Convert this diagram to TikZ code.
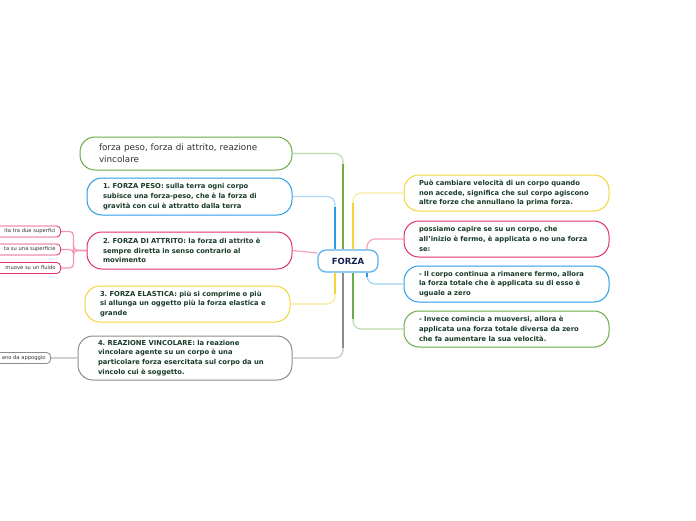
\documentclass[tikz,border=0pt]{standalone}
\usepackage{fontspec}
\setmainfont{DejaVu Sans}
\usetikzlibrary{calc}
\definecolor{cgreen}{RGB}{106,172,69}
\definecolor{cblue}{RGB}{44,155,230}
\definecolor{cpink}{RGB}{224,50,105}
\definecolor{cyellow}{RGB}{245,212,55}
\definecolor{cgray}{RGB}{140,140,140}
\definecolor{txt}{RGB}{25,60,40}
\definecolor{navy}{RGB}{20,35,80}
\frenchspacing
\begin{document}
\begin{tikzpicture}[x=1pt,y=-1pt,
  box/.style={draw, line width=1pt, fill=white, rounded corners=15pt, align=left,
    anchor=center, inner ysep=0pt, text=txt,
    font=\fontsize{6.8}{9.8}\selectfont\bfseries},
  small/.style={draw, line width=0.8pt, fill=white, rounded corners=4pt, anchor=east,
    align=right, text width=80pt, inner xsep=5pt, minimum height=11pt, inner ysep=0pt,
    text=black!80, font=\fontsize{5.2}{5.5}\selectfont},
  light/.style={line width=1.2pt, rounded corners=8pt},
  strong/.style={line width=2pt}
]
\useasboundingbox (0,0) rectangle (696,520);
\clip (0,0) rectangle (696,520);
\fill[white] (0,0) rectangle (696,520);

% central node
\node[draw=cblue!80, line width=1.2pt, fill=white, rounded corners=8pt,
  minimum width=60pt, minimum height=22pt, inner sep=0pt, text=navy,
  font=\fontsize{8.5}{10}\selectfont\bfseries] (forza) at (348,261) {FORZA};

% left nodes
\node[box, draw=cgreen, text width=174pt, inner xsep=19pt, minimum height=33pt,
  text=black!80, font=\fontsize{8.8}{12}\selectfont] (g0) at (186,153.5)
  {forza peso, forza di attrito, reazione\\vincolare};
\node[box, draw=cblue, text width=173pt, inner xsep=16pt, minimum height=37pt] (n1) at (189.5,196.5)
  {1. FORZA PESO: sulla terra ogni corpo\\subisce una forza-peso, che è la forza di\\gravità con cui è attratto dalla terra};
\node[box, draw=cpink, text width=173pt, inner xsep=16pt, minimum height=37pt] (n2) at (189.5,250.5)
  {2. FORZA DI ATTRITO: la forza di attrito è\\sempre diretta in senso contrario al\\movimento};
\node[box, draw=cyellow, text width=175pt, inner xsep=15pt, minimum height=36pt] (n3) at (187.5,304)
  {3. FORZA ELASTICA: più si comprime o più\\si allunga un oggetto più la forza elastica e\\grande};
\node[box, draw=cgray, text width=174pt, inner xsep=20pt, minimum height=44pt] (n4) at (185,358)
  {4. REAZIONE VINCOLARE: la reazione\\vincolare agente su un corpo è una\\particolare forza esercitata sul corpo da un\\vincolo cui è soggetto.};

% right nodes
\node[box, draw=cyellow, text width=175pt, inner xsep=15pt, minimum height=36pt] (ra) at (506.5,193)
  {Può cambiare velocità di un corpo quando\\non accede, significa che sul corpo agiscono\\altre forze che annullano la prima forza.};
\node[box, draw=cpink, text width=175pt, inner xsep=15pt, minimum height=36pt] (rb) at (506.5,239)
  {possiamo capire se su un corpo, che\\all'inizio è fermo, è applicata o no una forza\\se:};
\node[box, draw=cblue, text width=175pt, inner xsep=15pt, minimum height=36pt] (rc) at (506.5,284)
  {- Il corpo continua a rimanere fermo, allora\\la forza totale che è applicata su di esso è\\uguale a zero};
\node[box, draw=cgreen, text width=175pt, inner xsep=15pt, minimum height=36pt] (rd) at (506.5,329)
  {- Invece comincia a muoversi, allora è\\applicata una forza totale diversa da zero\\che fa aumentare la sua velocità.};

% small nodes on the left (cut by the frame)
\node[small, draw=cpink] (s1) at (61,231.5) {ita tra due superfici};
\node[small, draw=cpink] (s2) at (61,249.5) {ta su una superficie};
\node[small, draw=cpink] (s3) at (61,268) {muove su un fluido};
\node[small, draw=cgray] (t1) at (51,358) {ano da appoggio};

% connectors left
\draw[light, cgreen!45] (g0.east) -| ($(forza.north)+(-5,0)$);
\draw[strong, cgreen] ($(forza.north)+(-5,0)$) -- ($(forza.north |- g0.east)+(-5,10)$);
\draw[light, cblue!40] (n1.east) -| ($(forza.north)+(-13,0)$);
\draw[strong, cblue] ($(forza.north)+(-13,0)$) -- ($(forza.north |- n1.east)+(-13,10)$);
\draw[light, cpink!45] (n2.east) -- ($(forza.west)+(0,-8)$);
\draw[light, cyellow!50] (n3.east) -| ($(forza.south)+(-13,0)$);
\draw[strong, cyellow] ($(forza.south)+(-13,0)$) -- ($(forza.south |- n3.east)+(-13,-10)$);
\draw[light, cgray!50] (n4.east) -| ($(forza.south)+(-5,0)$);
\draw[strong, cgray] ($(forza.south)+(-5,0)$) -- ($(forza.south |- n4.east)+(-5,-10)$);

% connectors right
\draw[light, cyellow!45] ($(forza.north)+(5,0)$) |- (ra.west);
\draw[strong, cyellow] ($(forza.north)+(5,0)$) -- ($(forza.north |- ra.west)+(5,10)$);
\draw[light, cpink!45] ($(forza.north)+(19,0)$) |- (rb.west);
\draw[light, cblue!45] ($(forza.south)+(19,0)$) |- (rc.west);
\draw[strong, cblue] ($(forza.south)+(19,0)$) -- ($(forza.south)+(19,4)$);
\draw[light, cgreen!45] ($(forza.south)+(5,0)$) |- (rd.west);
\draw[strong, cgreen] ($(forza.south)+(5,0)$) -- ($(forza.south |- rd.west)+(5,-10)$);

% small connectors
\draw[light, cpink!50, rounded corners=4pt] (n2.west) -- ++(-13,0) |- (s1.east);
\draw[light, cpink!50, rounded corners=4pt] (n2.west) -- ++(-13,0) |- (s2.east);
\draw[light, cpink!50, rounded corners=4pt] (n2.west) -- ++(-13,0) |- (s3.east);
\draw[light, cgray!40] (n4.west) -- (t1.east);
\end{tikzpicture}
\end{document}
